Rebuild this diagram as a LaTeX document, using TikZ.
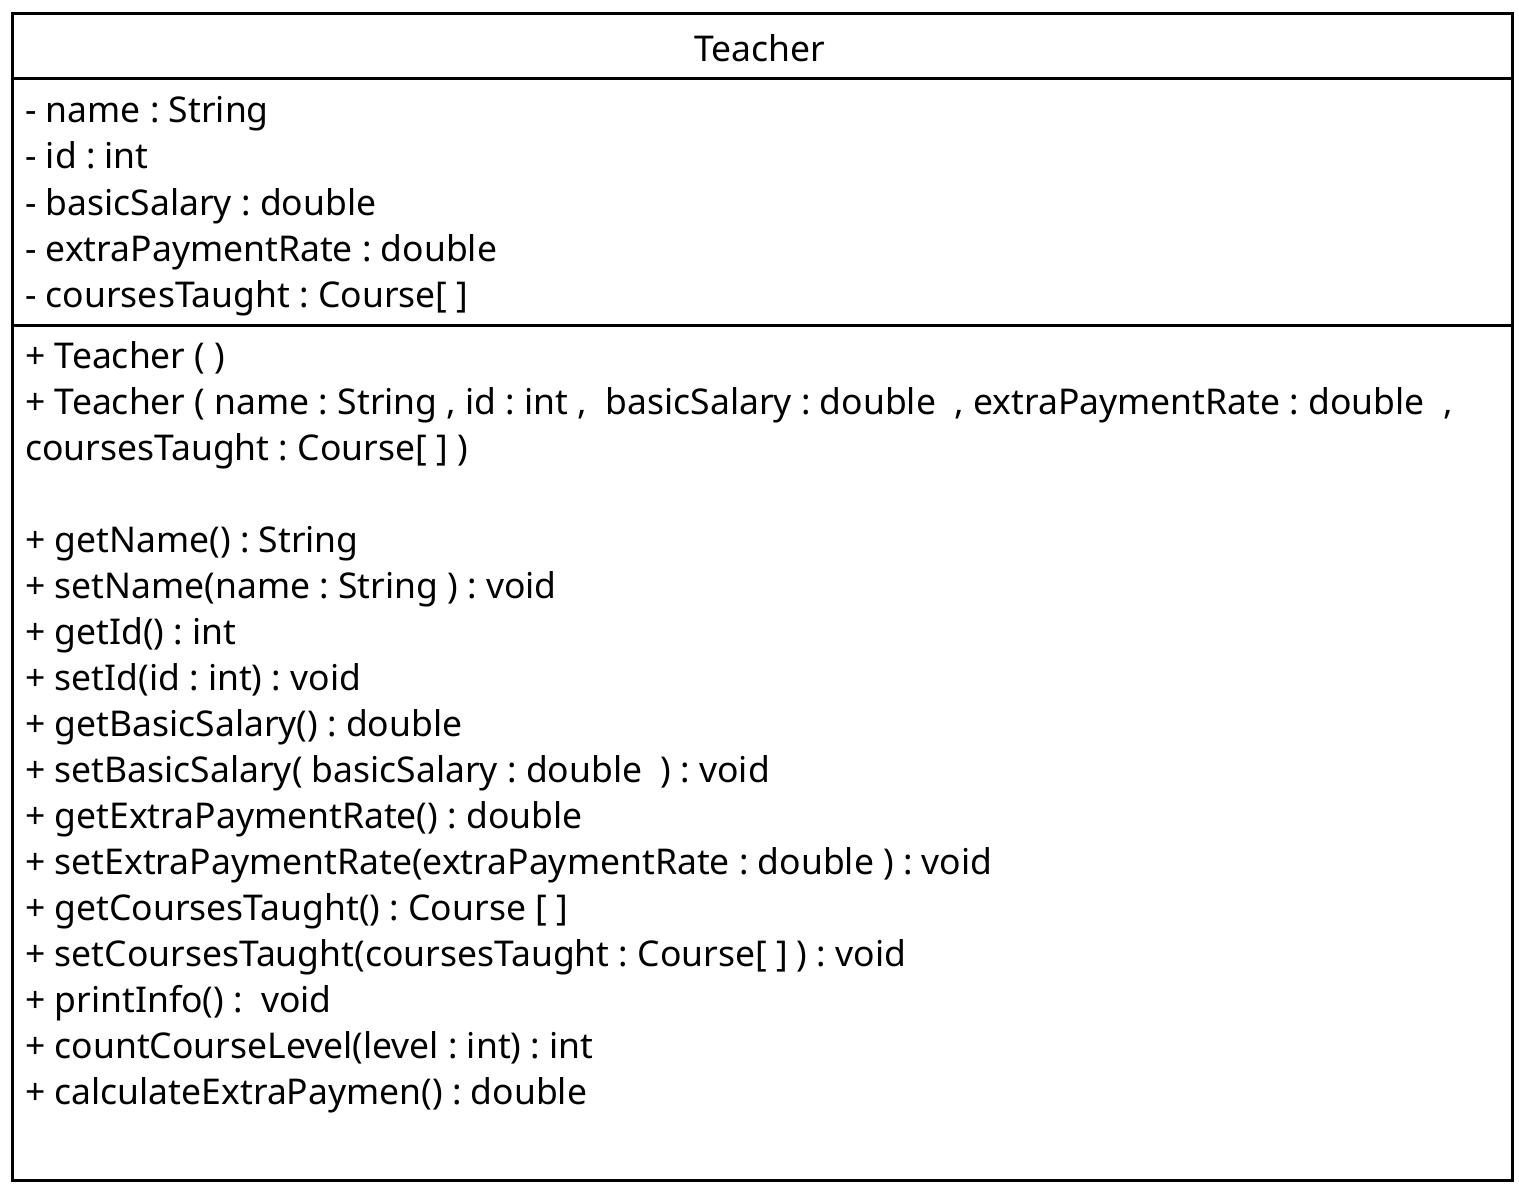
\documentclass[tikz,border=0pt]{standalone}
\usepackage{fontspec}
\setmainfont{Noto Sans}
\frenchspacing
\begin{document}
\begin{tikzpicture}[x=1pt,y=1pt,
  attr/.style={anchor=base west, inner sep=0pt, font=\fontsize{35.5}{42}\selectfont},
  meth/.style={attr},
  sep/.style={line width=3pt}]
\useasboundingbox (0,0) rectangle (1519,-1188);
\node[draw, line width=3pt, minimum width=1500pt, minimum height=1167pt, inner sep=0pt, anchor=north west] (box) at (11,-12) {};
\coordinate (h1) at (11,-79);
\coordinate (h2) at (1511,-79);
\coordinate (s1) at (11,-325);
\coordinate (s2) at (1511,-325);
\draw[sep] (h1) -- (h2);
\draw[sep] (s1) -- (s2);
\node[anchor=base, inner sep=0pt, font=\fontsize{35.5}{42}\selectfont] (title) at (760,-62) {Teacher};
\node[attr] (a1) at (25,-123) {- name : String};
\node[attr] (a2) at (25,-169) {- id : int};
\node[attr] (a3) at (25,-215) {- basicSalary : double};
\node[attr] (a4) at (25,-261) {- extraPaymentRate : double};
\node[attr] (a5) at (25,-307) {- coursesTaught : Course[ ]};
\node[meth] (m1) at (25,-368) {+ Teacher ( )};
\node[meth] (m2) at (25,-414) {+ Teacher ( name : String , id : int ,\ \ basicSalary : double\ \ , extraPaymentRate : double\ \ ,};
\node[meth] (m3) at (25,-460) {coursesTaught : Course[ ] )};
\node[meth] (m4) at (25,-552) {+ getName() : String};
\node[meth] (m5) at (25,-598) {+ setName(name : String ) : void};
\node[meth] (m6) at (25,-644) {+ getId() : int};
\node[meth] (m7) at (25,-690) {+ setId(id : int) : void};
\node[meth] (m8) at (25,-736) {+ getBasicSalary() : double};
\node[meth] (m9) at (25,-782) {+ setBasicSalary( basicSalary : double\ \ ) : void};
\node[meth] (m10) at (25,-828) {+ getExtraPaymentRate() : double};
\node[meth] (m11) at (25,-874) {+ setExtraPaymentRate(extraPaymentRate : double ) : void};
\node[meth] (m12) at (25,-920) {+ getCoursesTaught() : Course [ ]};
\node[meth] (m13) at (25,-966) {+ setCoursesTaught(coursesTaught : Course[ ] ) : void};
\node[meth] (m14) at (25,-1012) {+ printInfo() :\ \ void};
\node[meth] (m15) at (25,-1058) {+ countCourseLevel(level : int) : int};
\node[meth] (m16) at (25,-1104) {+ calculateExtraPaymen() : double};
\end{tikzpicture}
\end{document}
